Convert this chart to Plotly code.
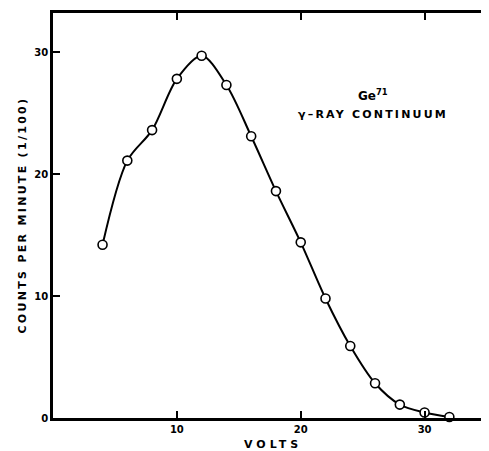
import plotly.graph_objects as go

volts = [4, 6, 8, 10, 12, 14, 16, 18, 20, 22, 24, 26, 28, 30, 32]
counts = [14.2, 21.1, 23.6, 27.8, 29.7, 27.3, 23.1, 18.6, 14.4, 9.8, 5.9, 2.85, 1.1, 0.45, 0.08]
x_ticks = [10, 20, 30]
y_ticks = [0, 10, 20, 30]

FONT = "DejaVu Sans"


def spaced(txt, px):
    return f'<span style="letter-spacing:{px}px">{txt}</span>'


fig = go.Figure()
fig.add_trace(go.Scatter(
    x=volts, y=counts, mode="lines+markers",
    line=dict(color="black", width=2, shape="spline", smoothing=0.9),
    marker=dict(symbol="circle", size=9, color="white",
                line=dict(color="black", width=1.6)),
    showlegend=False, cliponaxis=False,
))

fig.add_annotation(x=25.8, y=26.5, xref="x", yref="y", text="Ge<sup>71</sup>",
                   showarrow=False,
                   font=dict(family=FONT, size=12, color="black", weight="bold"))
fig.add_annotation(x=25.8, y=24.9, xref="x", yref="y", text=spaced("γ–RAY CONTINUUM", 2.2),
                   showarrow=False,
                   font=dict(family=FONT, size=11, color="black", weight="bold"))
fig.add_annotation(x=17.8, y=0, xref="x", yref="paper", text=spaced("VOLTS", 4),
                   showarrow=False, yanchor="middle", yshift=-26,
                   font=dict(family=FONT, size=11, color="black", weight="bold"))
fig.add_annotation(x=0, y=0.5, xref="paper", yref="paper",
                   text=spaced("COUNTS PER MINUTE (1/100)", 2.3),
                   showarrow=False, textangle=-90, xanchor="center", xshift=-31,
                   font=dict(family=FONT, size=11, color="black", weight="bold"))

fig.update_xaxes(range=[0, 35.2], tickvals=x_ticks, ticktext=[str(v) for v in x_ticks],
                 ticks="inside", ticklen=7, tickwidth=2, tickcolor="black",
                 showline=True, linewidth=2.5, linecolor="black", mirror="ticks",
                 showgrid=False, zeroline=False,
                 tickfont=dict(family=FONT, size=10, color="black", weight="bold"))
fig.update_yaxes(range=[0, 33.2], tickvals=y_ticks, ticktext=[str(v) for v in y_ticks],
                 ticks="inside", ticklen=7, tickwidth=2, tickcolor="black",
                 showline=True, linewidth=2.5, linecolor="black", mirror=False,
                 showgrid=False, zeroline=False,
                 tickfont=dict(family=FONT, size=10, color="black", weight="bold"))

fig.update_layout(width=481, height=443, paper_bgcolor="white", plot_bgcolor="white",
                  margin=dict(l=45, r=0, t=5, b=33))

fig.write_html("out.html")
